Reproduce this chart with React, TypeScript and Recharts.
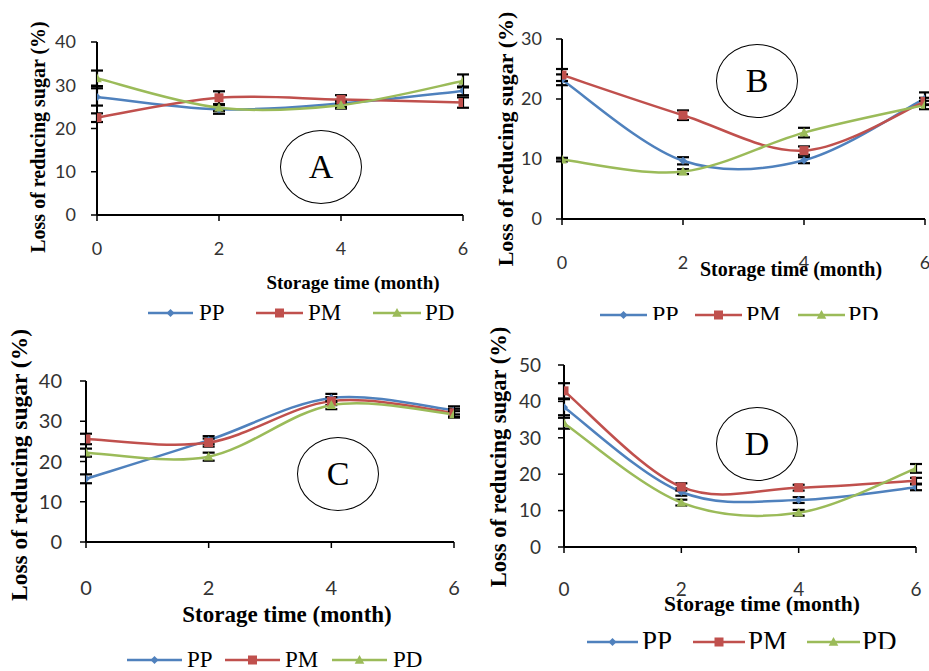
import React from "react";
import { LineChart, Line, XAxis, YAxis, ErrorBar } from "recharts";

// storage time (month)
const months = [0, 2, 4, 6];
const seriesNames = ["PP", "PM", "PD"];
const seriesColors = ["#4f81bd", "#c0504d", "#9bbb59"];
const seriesShapes = ["diamond", "square", "triangle"];

// panel A
const ppA = [27.3, 24.4, 25.8, 28.7];
const pmA = [22.5, 27.1, 26.7, 26.0];
const pdA = [31.6, 24.8, 25.4, 31.0];
const ppAErr = [2.0, 1.0, 0.8, 1.0];
const pmAErr = [1.0, 1.5, 1.0, 1.2];
const pdAErr = [1.8, 0.8, 0.8, 1.5];
const yTicksA = [0, 10, 20, 30, 40];

// panel B
const ppB = [23.2, 9.7, 9.8, 20.1];
const pmB = [24.0, 17.3, 11.4, 19.6];
const pdB = [9.9, 7.9, 14.4, 19.0];
const ppBErr = [0.9, 0.6, 0.5, 1.0];
const pmBErr = [1.0, 0.8, 0.7, 0.6];
const pdBErr = [0.3, 0.4, 0.8, 0.7];
const yTicksB = [0, 10, 20, 30];

// panel C
const ppC = [15.7, 25.3, 35.8, 32.7];
const pmC = [25.6, 24.7, 35.0, 32.1];
const pdC = [22.2, 21.2, 34.0, 31.7];
const ppCErr = [1.1, 1.0, 1.0, 1.0];
const pmCErr = [1.3, 1.0, 1.0, 1.0];
const pdCErr = [1.0, 1.0, 1.0, 0.8];
const yTicksC = [0, 10, 20, 30, 40];

// panel D
const ppD = [38.4, 15.1, 12.9, 16.4];
const pmD = [42.9, 16.5, 16.3, 18.2];
const pdD = [34.0, 12.2, 9.4, 21.6];
const ppDErr = [2.2, 1.0, 0.8, 0.8];
const pmDErr = [2.1, 1.0, 0.8, 0.8];
const pdDErr = [1.5, 0.8, 0.8, 1.2];
const yTicksD = [0, 10, 20, 30, 40, 50];

const buildRows = (vals: number[][], errs: number[][]) =>
  months.map((m, i) => {
    const row: Record<string, number> = { month: m };
    seriesNames.forEach((n, s) => {
      row[n] = vals[s][i];
      row[n + "_err"] = errs[s][i];
    });
    return row;
  });

// Excel-like smoothed line (Catmull-Rom through the points)
const excelCurve: any = (context: any) => {
  let pts: number[][] = [];
  return {
    areaStart() {},
    areaEnd() {},
    lineStart() {
      pts = [];
    },
    point(x: number, y: number) {
      pts.push([+x, +y]);
    },
    lineEnd() {
      if (!pts.length) return;
      context.moveTo(pts[0][0], pts[0][1]);
      for (let i = 0; i < pts.length - 1; i++) {
        const p0 = pts[Math.max(i - 1, 0)];
        const p1 = pts[i];
        const p2 = pts[i + 1];
        const p3 = pts[Math.min(i + 2, pts.length - 1)];
        context.bezierCurveTo(
          p1[0] + (p2[0] - p0[0]) / 6,
          p1[1] + (p2[1] - p0[1]) / 6,
          p2[0] - (p3[0] - p1[0]) / 6,
          p2[1] - (p3[1] - p1[1]) / 6,
          p2[0],
          p2[1]
        );
      }
    },
  };
};

const Marker = ({ shape, cx, cy, color }: { shape: string; cx: number; cy: number; color: string }) => {
  if (shape === "diamond") {
    const s = 4;
    return <polygon points={`${cx},${cy - s} ${cx + s},${cy} ${cx},${cy + s} ${cx - s},${cy}`} fill={color} />;
  }
  if (shape === "square") {
    const s = 4.5;
    return <rect x={cx - s} y={cy - s} width={2 * s} height={2 * s} fill={color} />;
  }
  const s = 4.8;
  return <polygon points={`${cx},${cy - s * 1.05} ${cx + s},${cy + s * 0.8} ${cx - s},${cy + s * 0.8}`} fill={color} />;
};

const panels = [
  {
    label: "A",
    rows: buildRows([ppA, pmA, pdA], [ppAErr, pmAErr, pdAErr]),
    yTicks: yTicksA,
    box: { x: 0, y: 0, w: 470, h: 320 },
    plot: { l: 97, r: 463, t: 42, b: 215 },
    xGap: 27, yGap: 21, tickFs: 18,
    yTitle: { cx: 38, cy: 137, fs: 20 },
    xTitle: { cx: 353, cy: 282, fs: 19 },
    legend: { y: 313, fs: 23, items: [[148, 193, 199], [256, 303, 308], [373, 421, 425]] },
    circle: { cx: 321, cy: 167 },
  },
  {
    label: "B",
    rows: buildRows([ppB, pmB, pdB], [ppBErr, pmBErr, pdBErr]),
    yTicks: yTicksB,
    box: { x: 470, y: 0, w: 459, h: 320 },
    plot: { l: 562, r: 925, t: 39, b: 219 },
    xGap: 37, yGap: 20, tickFs: 18,
    yTitle: { cx: 506, cy: 139, fs: 22 },
    xTitle: { cx: 791, cy: 269, fs: 20 },
    legend: { y: 315, fs: 24, items: [[600, 647, 652], [695, 742, 746], [798, 845, 848]] },
    circle: { cx: 757, cy: 81 },
  },
  {
    label: "C",
    rows: buildRows([ppC, pmC, pdC], [ppCErr, pmCErr, pdCErr]),
    yTicks: yTicksC,
    box: { x: 0, y: 322, w: 470, h: 349 },
    plot: { l: 86, r: 454, t: 381, b: 542 },
    xGap: 39, yGap: 24, tickFs: 20,
    yTitle: { cx: 20, cy: 465, fs: 23.5 },
    xTitle: { cx: 287, cy: 614, fs: 23 },
    legend: { y: 660, fs: 23, items: [[127, 182, 187], [225, 280, 285], [332, 387, 393]] },
    circle: { cx: 338, cy: 474 },
  },
  {
    label: "D",
    rows: buildRows([ppD, pmD, pdD], [ppDErr, pmDErr, pdDErr]),
    yTicks: yTicksD,
    box: { x: 470, y: 322, w: 459, h: 327 },
    plot: { l: 564, r: 916, t: 365, b: 547 },
    xGap: 36, yGap: 23, tickFs: 19,
    yTitle: { cx: 499, cy: 457, fs: 22.5 },
    xTitle: { cx: 762, cy: 605, fs: 21.5 },
    legend: { y: 642, fs: 27, items: [[587, 638, 642], [693, 745, 748], [807, 860, 862]] },
    circle: { cx: 757, cy: 444 },
  },
];

const Y_AXIS_W = 50;
const X_AXIS_H = 40;
const serif = "'Liberation Serif', 'Times New Roman', serif";

function Panel({ p }: { p: (typeof panels)[number] }) {
  const { box, plot } = p;
  const margin = {
    top: plot.t - box.y,
    right: box.x + box.w - plot.r,
    left: plot.l - box.x - Y_AXIS_W,
    bottom: box.y + box.h - plot.b - X_AXIS_H,
  };
  const tickStyle = { fill: "#333", fontSize: p.tickFs, fontFamily: "Lato, 'Liberation Sans', sans-serif" };
  return (
    <div style={{ position: "absolute", left: box.x, top: box.y, width: box.w, height: box.h, overflow: "hidden" }}>
      <LineChart width={box.w} height={box.h} data={p.rows} margin={margin}>
        <XAxis
          type="number"
          dataKey="month"
          domain={[0, 6]}
          ticks={months}
          interval={0}
          height={X_AXIS_H}
          tickSize={6}
          tickMargin={p.xGap - 6}
          axisLine={{ stroke: "#000", strokeWidth: 2 }}
          tickLine={{ stroke: "#000", strokeWidth: 1.5 }}
          tick={tickStyle}
          allowDataOverflow
        />
        <YAxis
          type="number"
          domain={[0, p.yTicks[p.yTicks.length - 1]]}
          ticks={p.yTicks}
          interval={0}
          width={Y_AXIS_W}
          tickSize={6}
          tickMargin={p.yGap - 6}
          axisLine={{ stroke: "#000", strokeWidth: 2 }}
          tickLine={{ stroke: "#000", strokeWidth: 1.5 }}
          tick={tickStyle}
          allowDataOverflow
        />
        {seriesNames.map((name, s) => (
          <Line
            key={name}
            dataKey={name}
            stroke={seriesColors[s]}
            strokeWidth={2.5}
            type={excelCurve}
            activeDot={false}
            isAnimationActive={false}
            dot={(d: any) => (
              <Marker key={`${name}-${d.index}`} shape={seriesShapes[s]} cx={d.cx} cy={d.cy} color={seriesColors[s]} />
            )}
          >
            <ErrorBar dataKey={name + "_err"} direction="y" width={6} stroke="#000" strokeWidth={2.2} />
          </Line>
        ))}
      </LineChart>
      <svg
        width={box.w}
        height={box.h}
        style={{ position: "absolute", left: 0, top: 0, pointerEvents: "none" }}
      >
        {p.legend.items.map(([x1, x2, tx], s) => {
          const y = p.legend.y - box.y;
          return (
            <g key={seriesNames[s]}>
              <line x1={x1 - box.x} x2={x2 - box.x} y1={y} y2={y} stroke={seriesColors[s]} strokeWidth={2.5} />
              <Marker shape={seriesShapes[s]} cx={(x1 + x2) / 2 - box.x} cy={y} color={seriesColors[s]} />
              <text x={tx - box.x} y={y + p.legend.fs * 0.3} fontFamily={serif} fontSize={p.legend.fs} fill="#000">
                {seriesNames[s]}
              </text>
            </g>
          );
        })}
      </svg>
    </div>
  );
}

export default function App() {
  return (
    <div
      style={{
        position: "absolute",
        left: 0,
        top: 0,
        width: 929,
        height: 671,
        background: "#fff",
        overflow: "hidden",
      }}
    >
      {panels.map((p) => (
        <Panel key={p.label} p={p} />
      ))}
      {panels.map((p) => (
        <React.Fragment key={p.label + "-text"}>
          <div
            style={{
              position: "absolute",
              left: p.yTitle.cx,
              top: p.yTitle.cy,
              transform: "translate(-50%, -50%) rotate(-90deg)",
              whiteSpace: "nowrap",
              fontFamily: serif,
              fontWeight: "bold",
              fontSize: p.yTitle.fs,
              lineHeight: 1,
            }}
          >
            Loss of reducing sugar (%)
          </div>
          <div
            style={{
              position: "absolute",
              left: p.xTitle.cx,
              top: p.xTitle.cy,
              transform: "translate(-50%, -50%)",
              whiteSpace: "nowrap",
              fontFamily: serif,
              fontWeight: "bold",
              fontSize: p.xTitle.fs,
              lineHeight: 1,
            }}
          >
            Storage time (month)
          </div>
          <div
            style={{
              position: "absolute",
              left: p.circle.cx - 41,
              top: p.circle.cy - 37,
              width: 82,
              height: 74,
              boxSizing: "border-box",
              border: "1.5px solid #000",
              borderRadius: "50%",
              display: "flex",
              alignItems: "center",
              justifyContent: "center",
              fontFamily: serif,
              fontSize: 34,
              lineHeight: 1,
            }}
          >
            {p.label}
          </div>
        </React.Fragment>
      ))}
    </div>
  );
}
